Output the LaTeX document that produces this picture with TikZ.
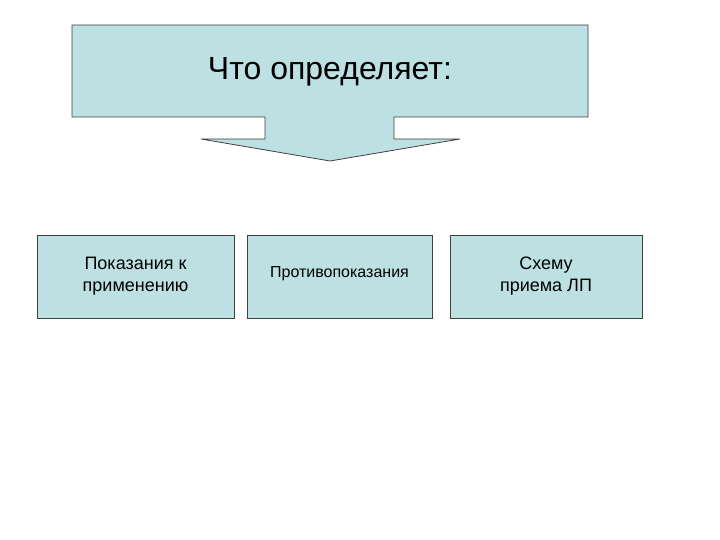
\documentclass[tikz,border=0pt]{standalone}
\usepackage{fontspec}
\setmainfont{Liberation Sans}
\definecolor{fillb}{HTML}{BDE0E3}
\definecolor{edge}{HTML}{404040}
\begin{document}
\begin{tikzpicture}[x=1pt,y=-1pt,
  box/.style={draw=edge,fill=fillb,line width=0.8pt},
  lbl/.style={align=center,font=\fontsize{18}{22}\selectfont,inner sep=0}]
\useasboundingbox (0,0) rectangle (720,540);
\draw[box] (72,25) -- (588,25) -- (588,117) -- (394,117) -- (394,139) -- (460,139) -- (330,161) -- (201,139) -- (265,139) -- (265,117) -- (72,117) -- cycle;
\node[inner sep=0,font=\fontsize{32}{38}\selectfont] (t) at (330,72) {Что определяет:};
\draw[box] (37,235) rectangle (234,318);
\node[lbl] (a) at (135.5,276) {Показания к\\применению};
\draw[box] (247,235) rectangle (432,318);
\node[lbl,font=\fontsize{16}{20}\selectfont] (b) at (339.5,274) {Противопоказания};
\draw[box] (450,235) rectangle (642,318);
\node[lbl] (c) at (546,276) {Схему\\приема ЛП};
\end{tikzpicture}
\end{document}
